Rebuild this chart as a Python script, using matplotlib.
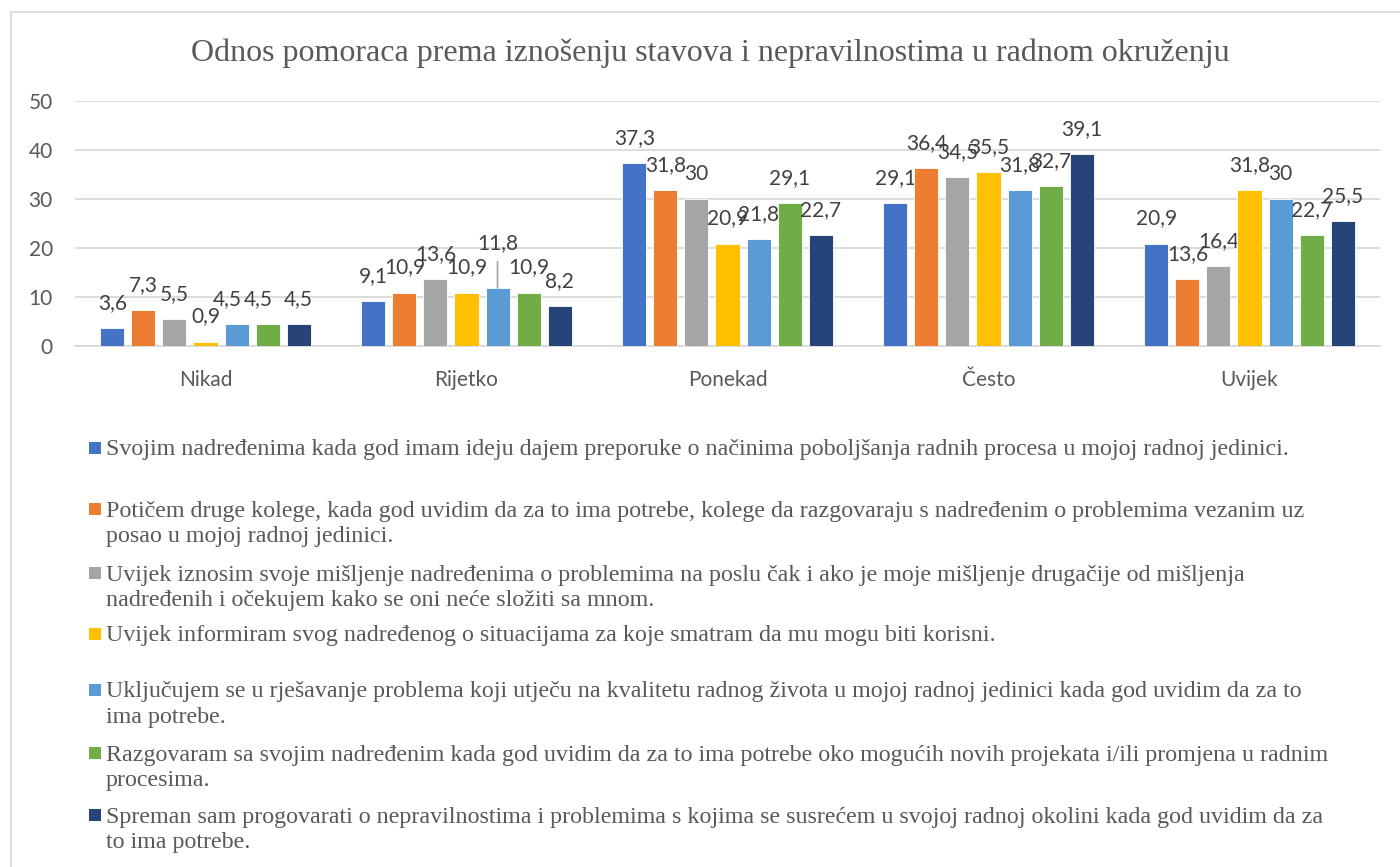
import matplotlib
matplotlib.use("Agg")
from matplotlib import pyplot as plt
from matplotlib.patches import Rectangle
import numpy as np

plt.rcParams["font.family"] = ["Lato", "DejaVu Sans"]

categories = ["Nikad", "Rijetko", "Ponekad", "Često", "Uvijek"]

# one list per statement, values per category (%)
s1 = [3.6, 9.1, 37.3, 29.1, 20.9]
s2 = [7.3, 10.9, 31.8, 36.4, 13.6]
s3 = [5.5, 13.6, 30, 34.5, 16.4]
s4 = [0.9, 10.9, 20.9, 35.5, 31.8]
s5 = [4.5, 11.8, 21.8, 31.8, 30]
s6 = [4.5, 10.9, 29.1, 32.7, 22.7]
s7 = [4.5, 8.2, 22.7, 39.1, 25.5]
series = [s1, s2, s3, s4, s5, s6, s7]

labels = [
    "Svojim nadređenima kada god imam ideju dajem preporuke o načinima poboljšanja radnih procesa u mojoj radnoj jedinici.",
    "Potičem druge kolege, kada god uvidim da za to ima potrebe, kolege da razgovaraju s nadređenim o problemima vezanim uz\nposao u mojoj radnoj jedinici.",
    "Uvijek iznosim svoje mišljenje nadređenima o problemima na poslu čak i ako je moje mišljenje drugačije od mišljenja\nnadređenih i očekujem kako se oni neće složiti sa mnom.",
    "Uvijek informiram svog nadređenog o situacijama za koje smatram da mu mogu biti korisni.",
    "Uključujem se u rješavanje problema koji utječu na kvalitetu radnog života u mojoj radnoj jedinici kada god uvidim da za to\nima potrebe.",
    "Razgovaram sa svojim nadređenim kada god uvidim da za to ima potrebe oko mogućih novih projekata i/ili promjena u radnim\nprocesima.",
    "Spreman sam progovarati o nepravilnostima i problemima s kojima se susrećem u svojoj radnoj okolini kada god uvidim da za\nto ima potrebe.",
]

colors = ["#4472C4", "#ED7D31", "#A5A5A5", "#FFC000", "#5B9BD5", "#70AD47", "#264478"]

W, H = 1400, 867
fig = plt.figure(figsize=(14, 8.67), dpi=100)

# outer chart border
fig.patches.append(Rectangle((11 / W, -0.02), 1.05, 1 - 12 / H + 0.02,
                             transform=fig.transFigure, fill=False,
                             edgecolor="#D9D9D9", linewidth=1.3))

ax = fig.add_axes([75 / W, 1 - 346 / H, (1380 - 75) / W, (346 - 101) / H])

x = np.arange(len(categories))
slot = 0.1188
width = 0.092

for i, (vals, c) in enumerate(zip(series, colors)):
    pos = x + (i - 3) * slot
    ax.bar(pos, vals, width, color=c, edgecolor="white", linewidth=0.6, zorder=3)
    for j, (p, v) in enumerate(zip(pos, vals)):
        txt = f"{v:g}".replace(".", ",")
        dx, dy = 0, 18
        if j == 0 and i in (4, 5):
            dx = -7
        if j == 1 and i == 4:
            # raised label with leader line
            ax.annotate(txt, (p, v), xytext=(0, 32.4), textcoords="offset points",
                        ha="center", va="center", fontsize=15, color="#404040",
                        arrowprops=dict(arrowstyle="-", color="#A6A6A6", lw=1.2,
                                        shrinkA=4, shrinkB=0, relpos=(0.5, 0)))
            continue
        ax.annotate(txt, (p, v), xytext=(dx, dy), textcoords="offset points",
                    ha="center", va="center", fontsize=15, color="#404040")

ax.set_xlim(-0.5, len(categories) - 0.5)
ax.set_ylim(0, 50)
ax.set_yticks(range(0, 51, 10))
ax.set_xticks(x)
ax.set_xticklabels(categories)
ax.tick_params(axis="both", length=0, labelsize=15, labelcolor="#595959")
ax.tick_params(axis="y", pad=16)
ax.tick_params(axis="x", pad=17)
ax.grid(axis="y", color="#D9D9D9", linewidth=1.3, zorder=0)
for s in ["top", "right", "left"]:
    ax.spines[s].set_visible(False)
ax.spines["bottom"].set_color("#D9D9D9")
ax.spines["bottom"].set_linewidth(1.3)

fig.text(710 / W, 1 - 53 / H,
         "Odnos pomoraca prema iznošenju stavova i nepravilnostima u radnom okruženju",
         ha="center", va="center", fontsize=23, color="#595959",
         family=["Liberation Serif", "DejaVu Serif"])

# legend, one entry per row under the plot
legend_y = [448, 509, 573, 634, 690, 753, 815]
for lab, c, yc in zip(labels, colors, legend_y):
    fig.patches.append(Rectangle((89 / W, 1 - (yc + 6) / H), 12 / W, 12 / H,
                                 transform=fig.transFigure, facecolor=c,
                                 edgecolor="none"))
    fig.text(106 / W, 1 - (yc - 8.5) / H, lab, ha="left", va="top",
             fontsize=17.3, color="#595959", linespacing=1.3,
             family=["Liberation Serif", "DejaVu Serif"])

fig.savefig("out.png", dpi=100)
